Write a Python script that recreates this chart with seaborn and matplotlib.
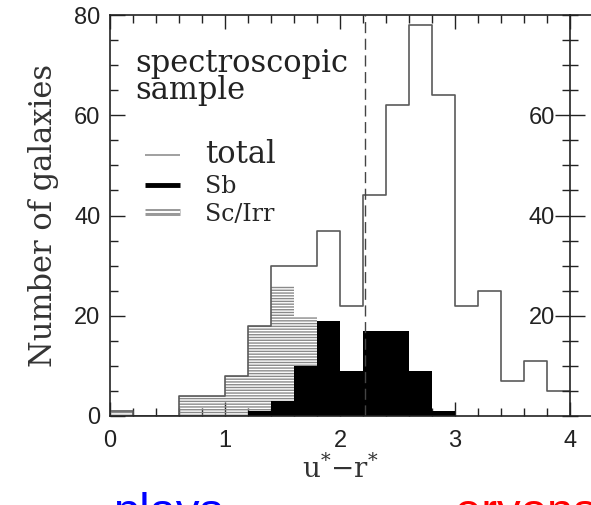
import matplotlib
matplotlib.use("Agg")
import matplotlib.pyplot as plt
import matplotlib.patheffects as pe
import seaborn as sns
from matplotlib.lines import Line2D
from matplotlib.ticker import MultipleLocator

# ---- data ----
bin_edges = [0.0, 0.2, 0.4, 0.6, 0.8, 1.0, 1.2, 1.4, 1.6, 1.8, 2.0,
             2.2, 2.4, 2.6, 2.8, 3.0, 3.2, 3.4, 3.6, 3.8, 4.0]
bin_centers = [0.1, 0.3, 0.5, 0.7, 0.9, 1.1, 1.3, 1.5, 1.7, 1.9,
               2.1, 2.3, 2.5, 2.7, 2.9, 3.1, 3.3, 3.5, 3.7, 3.9]
total_counts = [1, 0, 0, 4, 4, 8, 18, 30, 30, 37,
                22, 44, 62, 78, 64, 22, 25, 7, 11, 5]
sb_counts = [0, 0, 0, 0, 0, 0, 1, 3, 10, 19,
             9, 17, 17, 9, 1, 0, 0, 0, 0, 0]
scirr_counts = [1, 0, 0, 4, 4, 8, 18, 26, 20, 0,
                0, 0, 0, 0, 0, 0, 0, 0, 0, 0]
divider_x = 2.22
x_ticks = [0, 1, 2, 3, 4]
y_ticks = [0, 20, 40, 60, 80]
right_y_ticks = [20, 40, 60]

sns.set_style("ticks")
plt.rcParams["font.family"] = ["Liberation Sans", "DejaVu Sans"]
plt.rcParams["mathtext.fontset"] = "dejavuserif"
plt.rcParams["hatch.linewidth"] = 1.0

SERIF = ["DejaVu Serif"]
INK = "#222222"

fig = plt.figure(figsize=(5.91, 5.05), dpi=100)
L, R, B, T = 110 / 591, 570 / 591, 1 - 416 / 505, 1 - 15 / 505
ax = fig.add_axes([L, B, R - L, T - B])

# Sc/Irr hatched histogram
sns.histplot(x=bin_centers, weights=scirr_counts, bins=bin_edges, element="bars",
             fill=True, facecolor="none", edgecolor="#8a8a8a", hatch="------",
             linewidth=0, ax=ax)
# Sb solid black histogram
sns.histplot(x=bin_centers, weights=sb_counts, bins=bin_edges, element="step",
             fill=True, color="black", alpha=1, linewidth=0, ax=ax)
# total outline histogram
sns.histplot(x=bin_centers, weights=total_counts, bins=bin_edges, element="step",
             fill=False, color="#5a5a5a", linewidth=1.2, ax=ax)

ax.axvline(divider_x, color="#444444", lw=1.0, ls=(0, (8, 4)))

ax.set_xlim(0, 4)
ax.set_ylim(0, 80)
ax.set_xticks(x_ticks)
ax.set_yticks(y_ticks)
ax.xaxis.set_minor_locator(MultipleLocator(0.2))
ax.yaxis.set_minor_locator(MultipleLocator(5))
ax.tick_params(axis="both", which="both", direction="in", colors=INK,
               labelsize=17, top=True, right=False)
ax.tick_params(axis="x", which="major", length=10, width=1, pad=10)
ax.tick_params(axis="x", which="minor", length=6, width=1)
ax.tick_params(axis="y", which="major", length=11, width=1, pad=7)
ax.tick_params(axis="y", which="minor", length=6, width=1)
for s in ["left", "top", "bottom"]:
    ax.spines[s].set_color(INK)
    ax.spines[s].set_linewidth(1.2)
ax.spines["right"].set_visible(False)

ax.set_xlabel("u$^{*}$$-$r$^{*}$", family=SERIF, fontsize=20, color="#333333", labelpad=2)
ax.set_ylabel("Number of galaxies", family=SERIF, fontsize=22, color="#333333", labelpad=11)

ax.text(0.054, 0.918, "spectroscopic\nsample", transform=ax.transAxes,
        family=SERIF, fontsize=22, color="#222222", va="top", ha="left",
        linespacing=0.85)

handles = [
    Line2D([], [], color="#999999", lw=1.3, solid_capstyle="butt"),
    Line2D([], [], color="black", lw=3.5, solid_capstyle="butt"),
    Line2D([], [], color="white", lw=1.4, solid_capstyle="butt",
           path_effects=[pe.Stroke(linewidth=5, foreground="#999999", capstyle="butt"),
                         pe.Normal()]),
]
leg = ax.legend(handles, ["total", "Sb", "Sc/Irr"], loc="upper left",
                bbox_to_anchor=(0.076, 0.69), frameon=False,
                prop={"family": SERIF, "size": 17}, handlelength=1.5,
                handletextpad=1.05, labelspacing=0.2, borderpad=0, borderaxespad=0)
leg.get_texts()[0].set_fontsize(22)

# neighbouring panel (its left axis is visible at the right edge)
ax2 = fig.add_axes([R, B, 0.5, T - B])
ax2.patch.set_visible(False)
ax2.set_ylim(0, 80)
ax2.set_xlim(0, 4)
ax2.set_xticks([])
ax2.set_yticks(right_y_ticks)
ax2.yaxis.set_minor_locator(MultipleLocator(5))
ax2.tick_params(axis="y", which="both", direction="inout", colors=INK, labelsize=17)
ax2.tick_params(axis="y", which="major", length=22, width=1, pad=0)
ax2.tick_params(axis="y", which="minor", length=11, width=1)
for s in ["left", "top", "bottom"]:
    ax2.spines[s].set_color(INK)
    ax2.spines[s].set_linewidth(1.2)
ax2.spines["right"].set_visible(False)

fig.text(113 / 591, -0.042, "plays", color="#0000ff", fontsize=34,
         ha="left", va="baseline")
fig.text(455 / 591, -0.042, "eryons", color="#ff0000", fontsize=34,
         ha="left", va="baseline")

fig.savefig("out.png", dpi=100)
